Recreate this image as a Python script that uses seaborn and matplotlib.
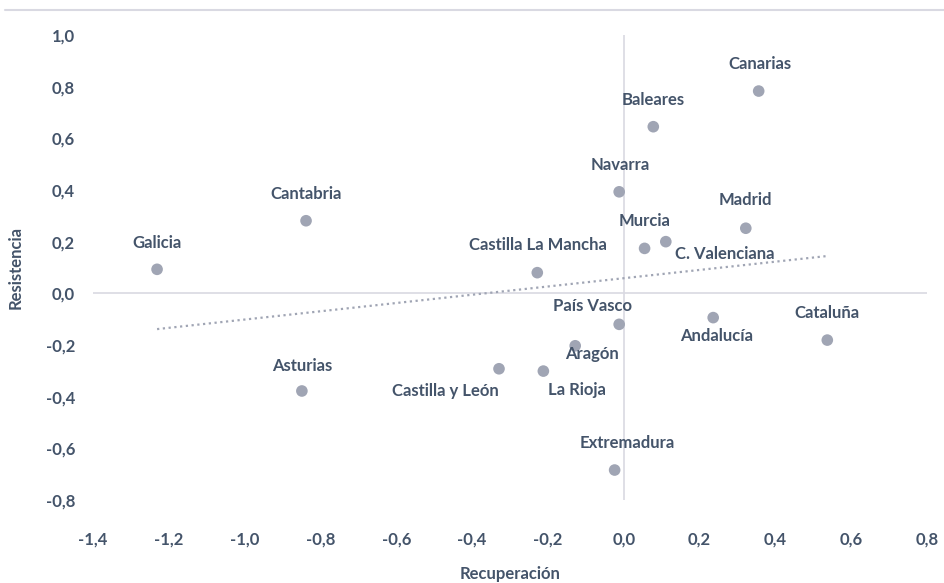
import numpy as np
import pandas as pd
import matplotlib
matplotlib.use("Agg")
import matplotlib.pyplot as plt
from matplotlib.lines import Line2D
from matplotlib.ticker import FuncFormatter, MultipleLocator
import seaborn as sns

# comunidades autonomas, recuperacion (x) y resistencia (y)
regiones = ["Galicia", "Cantabria", "Asturias", "Castilla y León", "La Rioja",
            "Aragón", "País Vasco", "Extremadura", "Castilla La Mancha", "Navarra",
            "Canarias", "Baleares", "Madrid", "Murcia", "C. Valenciana",
            "Andalucía", "Cataluña"]
recuperacion = [-1.231, -0.838, -0.849, -0.329, -0.212,
                -0.128, -0.012, -0.024, -0.228, -0.012,
                0.356, 0.078, 0.322, 0.055, 0.111,
                0.236, 0.537]
resistencia = [0.093, 0.281, -0.378, -0.292, -0.301,
               -0.203, -0.120, -0.684, 0.080, 0.393,
               0.783, 0.645, 0.252, 0.174, 0.200,
               -0.094, -0.181]

df = pd.DataFrame({"region": regiones, "x": recuperacion, "y": resistencia})

# label offsets in pixels (dx, dy)
offsets = {
    "Galicia": (0, 26), "Cantabria": (0, 27), "Asturias": (0, 25),
    "Castilla y León": (-54, -22), "La Rioja": (34, -19), "Aragón": (17, -8),
    "País Vasco": (-27, 18), "Extremadura": (13, 27), "Castilla La Mancha": (1, 28),
    "Navarra": (1, 27), "Canarias": (1, 27), "Baleares": (0, 27),
    "Madrid": (0, 28), "Murcia": (0, 27), "C. Valenciana": (59, -12),
    "Andalucía": (3, -18), "Cataluña": (0, 27),
}

texto = "#44546A"
punto = "#A0A5B4"
linea = "#D9D9E2"
fs = 12

sns.set_style("white")
plt.rcParams["font.family"] = ["Lato", "DejaVu Sans"]

fig = plt.figure(figsize=(9.45, 5.83), dpi=100)
ax = fig.add_axes([93 / 945, 1 - 500 / 583, (927 - 93) / 945, (500 - 35) / 583])

ax.axhline(0, color=linea, lw=1.2, zorder=1)
ax.axvline(0, color=linea, lw=1.2, zorder=1)

sns.regplot(data=df, x="x", y="y", ax=ax, scatter=False, ci=None, truncate=True,
            line_kws={"color": punto, "lw": 1.6, "linestyle": (0, (1, 1.6))})
sns.scatterplot(data=df, x="x", y="y", ax=ax, color=punto, s=70,
                edgecolor="none", zorder=3)

for _, r in df.iterrows():
    dx, dy = offsets[r["region"]]
    ax.annotate(r["region"], (r["x"], r["y"]), xytext=(dx, dy),
                textcoords="offset pixels", ha="center", va="center",
                fontsize=fs, fontweight="bold", color=texto)

ax.set_xlim(-1.4, 0.8)
ax.set_ylim(-0.8, 1.0)
ax.xaxis.set_major_locator(MultipleLocator(0.2))
ax.yaxis.set_major_locator(MultipleLocator(0.2))
fmt = FuncFormatter(lambda v, p: f"{v:.1f}".replace(".", ",").replace("-0,0", "0,0"))
ax.xaxis.set_major_formatter(fmt)
ax.yaxis.set_major_formatter(fmt)
ax.tick_params(axis="both", length=0, labelsize=fs, labelcolor=texto)
ax.tick_params(axis="x", pad=23)
ax.tick_params(axis="y", pad=13)
for lab in ax.get_xticklabels() + ax.get_yticklabels():
    lab.set_fontweight("bold")

for s in ax.spines.values():
    s.set_visible(False)

ax.set_xlabel("Recuperación", fontsize=fs, fontweight="bold", color=texto, labelpad=13)
ax.set_ylabel("Resistencia", fontsize=fs, fontweight="bold", color=texto, labelpad=16)

fig.add_artist(Line2D([5 / 945, 1.0], [1 - 10 / 583, 1 - 10 / 583],
                      color=linea, lw=1.5, transform=fig.transFigure))

fig.savefig("out.png", dpi=100, facecolor="white")
